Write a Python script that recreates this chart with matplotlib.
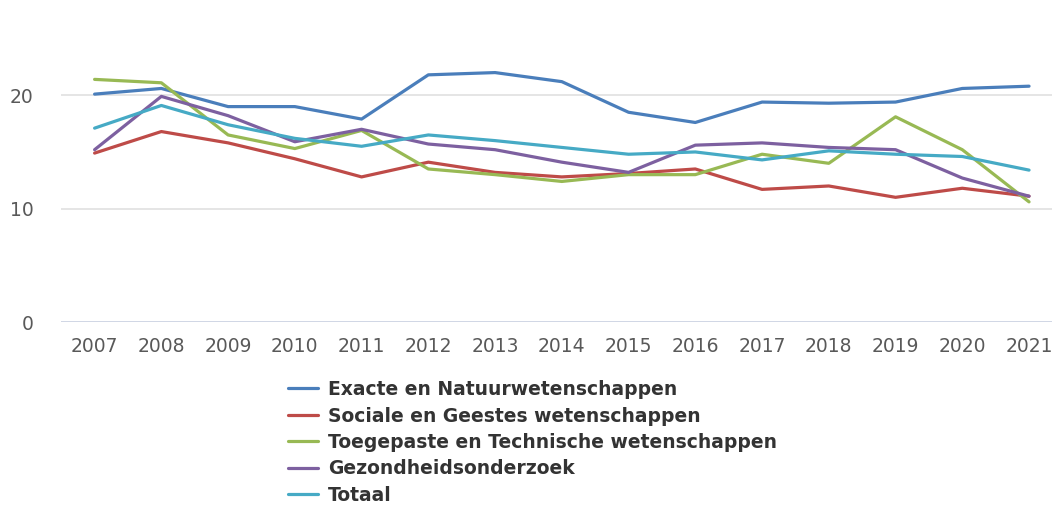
import matplotlib
matplotlib.use('Agg')
import matplotlib.pyplot as plt

# data
years = [2007, 2008, 2009, 2010, 2011, 2012, 2013, 2014,
         2015, 2016, 2017, 2018, 2019, 2020, 2021]

exacte = [20.1, 20.6, 19.0, 19.0, 17.9, 21.8, 22.0, 21.2,
          18.5, 17.6, 19.4, 19.3, 19.4, 20.6, 20.8]
sociale = [14.9, 16.8, 15.8, 14.4, 12.8, 14.1, 13.2, 12.8,
           13.1, 13.5, 11.7, 12.0, 11.0, 11.8, 11.1]
toegepaste = [21.4, 21.1, 16.5, 15.3, 16.9, 13.5, 13.0, 12.4,
              13.0, 13.0, 14.8, 14.0, 18.1, 15.2, 10.6]
gezondheid = [15.2, 19.9, 18.2, 15.9, 17.0, 15.7, 15.2, 14.1,
              13.2, 15.6, 15.8, 15.4, 15.2, 12.7, 11.1]
totaal = [17.1, 19.1, 17.4, 16.2, 15.5, 16.5, 16.0, 15.4,
          14.8, 15.0, 14.3, 15.1, 14.8, 14.6, 13.4]

labels = ['Exacte en Natuurwetenschappen',
          'Sociale en Geestes wetenschappen',
          'Toegepaste en Technische wetenschappen',
          'Gezondheidsonderzoek',
          'Totaal']
colors = ['#4A7EBB', '#BE4B48', '#98B954', '#7D60A0', '#46AAC5']

fig = plt.figure(figsize=(10.52, 5.08), dpi=100)
ax = fig.add_axes([0.0582, 0.366, 0.9517, 0.634])

series = [exacte, sociale, toegepaste, gezondheid, totaal]
for vals, lab, col in zip(series, labels, colors):
    ax.plot(years, vals, color=col, lw=2.3, label=lab, solid_capstyle='round')

ax.set_xlim(2006.5, 2021.5)
ax.set_ylim(0, 28.4)
ax.set_yticks([0, 10, 20])
ax.set_xticks(years)

# gridlines
for v in [10, 20]:
    ax.axhline(v, color='#E0E0E0', lw=1.2, zorder=0)
ax.axhline(0, color='#C8D0E0', lw=1.2, zorder=0)

for s in ax.spines.values():
    s.set_visible(False)
ax.tick_params(axis='both', length=0, labelsize=13.5, labelcolor='#595959')
ax.tick_params(axis='y', pad=20)
ax.tick_params(axis='x', pad=11)

fig.legend(loc='upper left', bbox_to_anchor=(288 / 1052, 1 - 380 / 508),
           frameon=False, borderpad=0, borderaxespad=0,
           handlelength=1.6, handletextpad=0.55, labelspacing=0.4,
           prop={'size': 13.5, 'weight': 'bold'}, labelcolor='#333333')

plt.savefig('out.png', dpi=100)
